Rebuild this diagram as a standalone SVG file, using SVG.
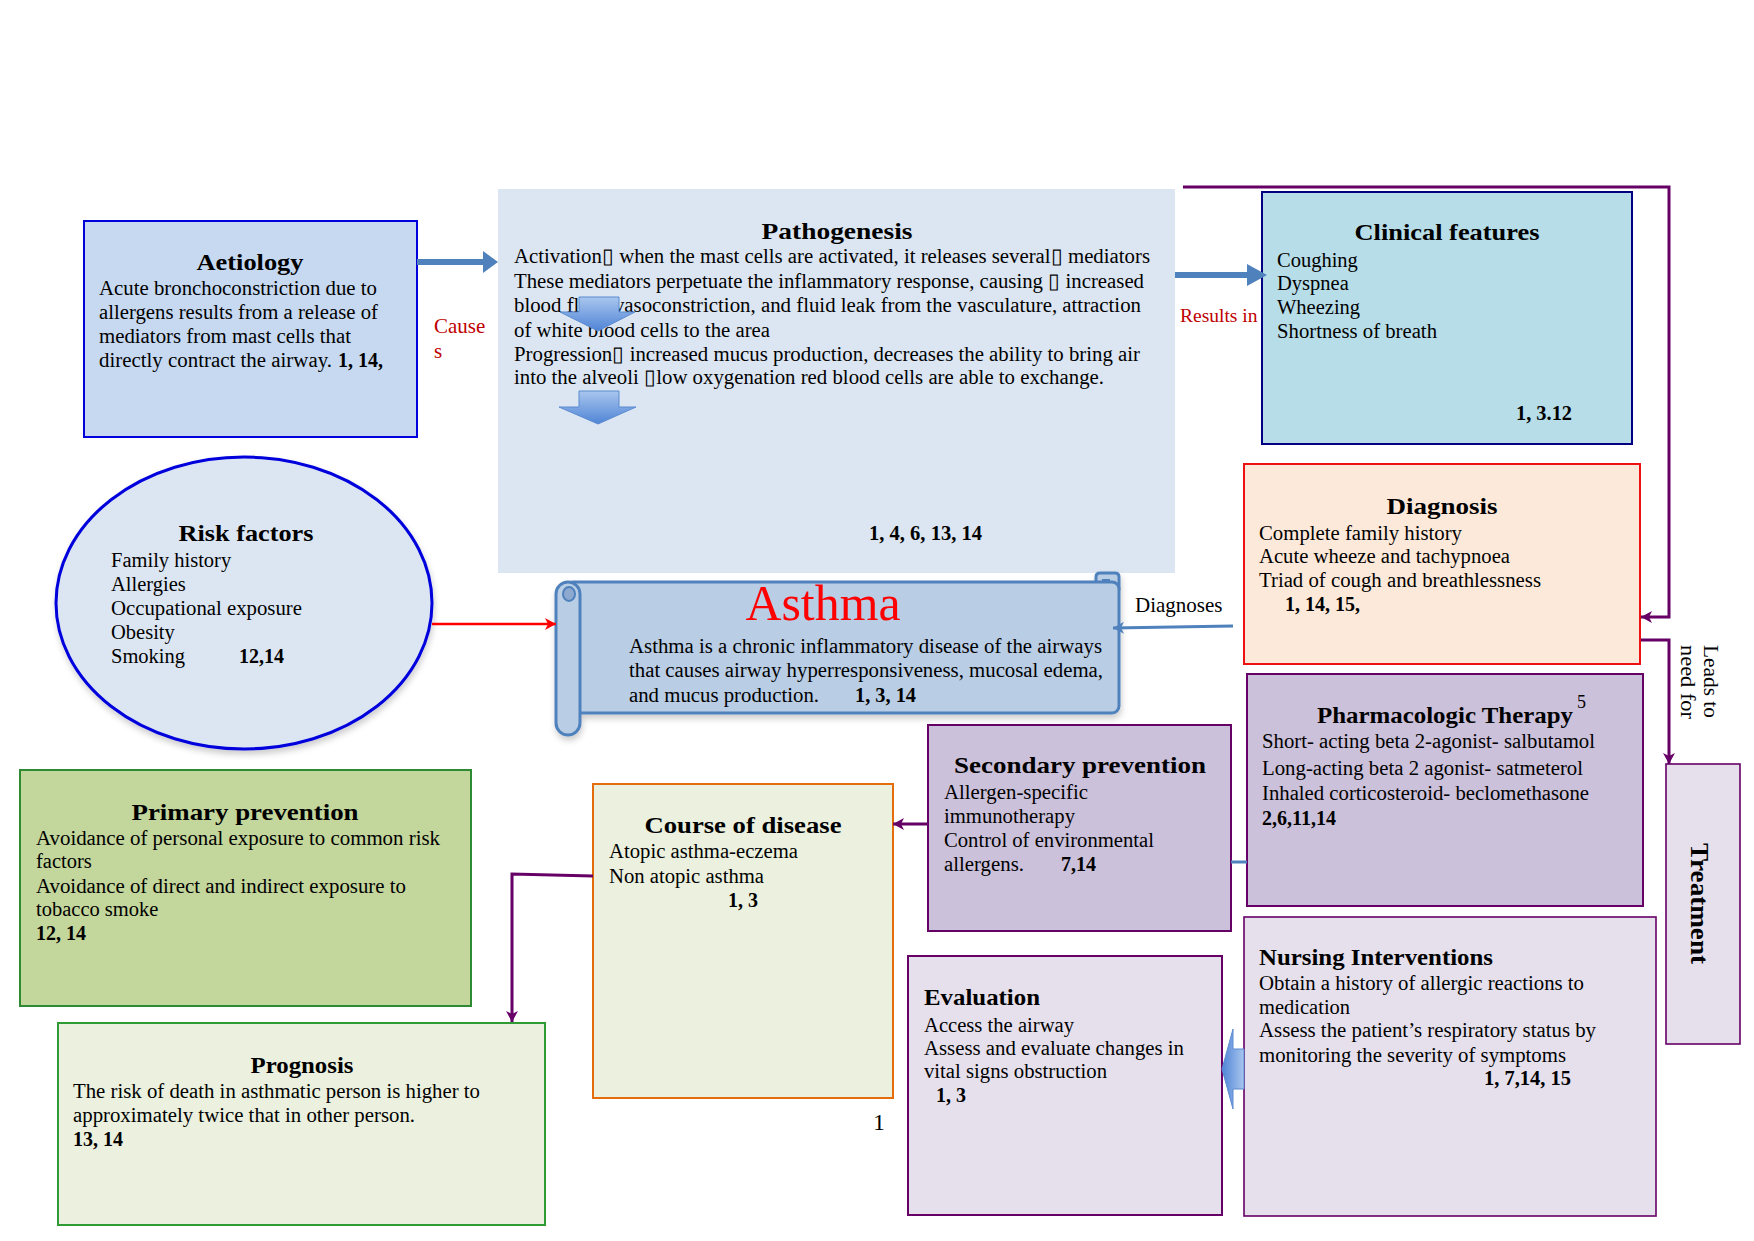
<svg xmlns="http://www.w3.org/2000/svg" width="1754" height="1241" viewBox="0 0 1754 1241">
<defs>
<style>
text{font-family:"Liberation Serif","Times New Roman",serif;fill:#000}
.h{font-weight:bold;font-size:24px}
.b{font-size:20.5px}
.r{font-weight:bold;font-size:20px}
.lbl{font-size:20px}
.red{fill:#c00000}
.box{stroke-width:2}
.pline{fill:none;stroke:#660066;stroke-width:3}
</style>
<linearGradient id="gdown" x1="0" y1="0" x2="0" y2="1">
<stop offset="0" stop-color="#a9c6ee"/>
<stop offset="1" stop-color="#4f84d6"/>
</linearGradient>
<linearGradient id="gleft" x1="0" y1="0" x2="1" y2="0">
<stop offset="0" stop-color="#4f84d6"/>
<stop offset="1" stop-color="#a9c6ee"/>
</linearGradient>
<marker id="ap" markerUnits="userSpaceOnUse" markerWidth="12" markerHeight="12" refX="11" refY="6" orient="auto">
<path d="M0,0 L11,6 L0,12 L3,6 z" fill="#660066"/>
</marker>
<marker id="ar" markerUnits="userSpaceOnUse" markerWidth="12" markerHeight="12" refX="11" refY="6" orient="auto">
<path d="M0,0 L11,6 L0,12 L3,6 z" fill="#ff0000"/>
</marker>
<marker id="ab" markerUnits="userSpaceOnUse" markerWidth="12" markerHeight="12" refX="11" refY="6" orient="auto">
<path d="M0,0 L11,6 L0,12 L3,6 z" fill="#4f81bd"/>
</marker>
<filter id="sh" x="-10%" y="-10%" width="120%" height="125%">
<feDropShadow dx="1" dy="4" stdDeviation="3" flood-color="#000" flood-opacity="0.2"/>
</filter>
</defs>
<rect width="1754" height="1241" fill="#fff"/>

<g id="pathogenesis">
<rect x="498" y="189" width="677" height="384" fill="#dce6f2"/>
<text class="h" x="837" y="239" text-anchor="middle" textLength="151" lengthAdjust="spacingAndGlyphs">Pathogenesis</text>
<text class="b" x="514" y="263" textLength="636" lengthAdjust="spacingAndGlyphs">Activation▯ when the mast cells are activated, it releases several▯ mediators</text>
<text class="b" x="514" y="288" textLength="630" lengthAdjust="spacingAndGlyphs">These mediators perpetuate the inflammatory response, causing ▯ increased</text>
<text class="b" x="514" y="312" textLength="627" lengthAdjust="spacingAndGlyphs">blood flow, vasoconstriction, and fluid leak from the vasculature, attraction</text>
<text class="b" x="514" y="337" textLength="256" lengthAdjust="spacingAndGlyphs">of white blood cells to the area</text>
<text class="b" x="514" y="361" textLength="626" lengthAdjust="spacingAndGlyphs">Progression▯ increased mucus production, decreases the ability to bring air</text>
<text class="b" x="514" y="384" textLength="590" lengthAdjust="spacingAndGlyphs">into the alveoli ▯low oxygenation red blood cells are able to exchange.</text>
<text class="r" x="869" y="540" textLength="113" lengthAdjust="spacingAndGlyphs">1, 4, 6, 13, 14</text>
<path d="M579,297 H619 V312 H635 L598,331 L560,312 H579 z" fill="url(#gdown)" stroke="#5b8bd0" stroke-width="1"/>
<path d="M579,391 H619 V407 H636 L598,424 L559,407 H579 z" fill="url(#gdown)" stroke="#5b8bd0" stroke-width="1"/>
</g>

<g id="aetiology">
<rect class="box" x="84" y="221" width="333" height="216" fill="#c6d9f1" stroke="#0000dd"/>
<text class="h" x="250" y="270" text-anchor="middle" textLength="107" lengthAdjust="spacingAndGlyphs">Aetiology</text>
<text class="b" x="99" y="295" textLength="278" lengthAdjust="spacingAndGlyphs">Acute bronchoconstriction due to</text>
<text class="b" x="99" y="319" textLength="279" lengthAdjust="spacingAndGlyphs">allergens results from a release of</text>
<text class="b" x="99" y="343" textLength="252" lengthAdjust="spacingAndGlyphs">mediators from mast cells that</text>
<text class="b" x="99" y="367" textLength="233" lengthAdjust="spacingAndGlyphs">directly contract the airway.</text>
<text class="r" x="338" y="367">1, 14,</text>
</g>

<g id="clinical-features">
<rect class="box" x="1262" y="192" width="370" height="252" fill="#b7dde8" stroke="#000080"/>
<text class="h" x="1447" y="240" text-anchor="middle" textLength="185" lengthAdjust="spacingAndGlyphs">Clinical features</text>
<text class="b" x="1277" y="267">Coughing</text>
<text class="b" x="1277" y="290">Dyspnea</text>
<text class="b" x="1277" y="314">Wheezing</text>
<text class="b" x="1277" y="338" textLength="160" lengthAdjust="spacingAndGlyphs">Shortness of breath</text>
<text class="r" x="1516" y="420" textLength="56" lengthAdjust="spacingAndGlyphs">1, 3.12</text>
</g>

<g id="risk-factors">
<ellipse cx="244" cy="603" rx="188" ry="146" fill="#dce6f2" stroke="#0000dd" stroke-width="3" filter="url(#sh)"/>
<text class="h" x="246" y="541" text-anchor="middle" textLength="135" lengthAdjust="spacingAndGlyphs">Risk factors</text>
<text class="b" x="111" y="567">Family history</text>
<text class="b" x="111" y="591">Allergies</text>
<text class="b" x="111" y="615" textLength="191" lengthAdjust="spacingAndGlyphs">Occupational exposure</text>
<text class="b" x="111" y="639">Obesity</text>
<text class="b" x="111" y="663">Smoking</text>
<text class="r" x="239" y="663">12,14</text>
</g>

<g id="asthma">
<g filter="url(#sh)">
<path d="M1096,584 V577 Q1096,573 1100,573 H1115 Q1119,573 1119,577 V590" fill="#b9cde5" stroke="#4f81bd" stroke-width="3"/>
<rect x="566" y="582" width="553" height="131" rx="7" fill="#b9cde5" stroke="#4f81bd" stroke-width="3"/>
<rect x="556" y="582" width="24" height="153" rx="12" fill="#b9cde5" stroke="#4f81bd" stroke-width="3"/>
</g>
<ellipse cx="569" cy="594" rx="6" ry="7" fill="#8ea9cf" stroke="#4f81bd" stroke-width="2"/>
<path d="M1102,580 H1110" stroke="#4f81bd" stroke-width="2"/>
<text x="823" y="620" text-anchor="middle" style="font-size:50px;fill:#ff0000" textLength="155" lengthAdjust="spacingAndGlyphs">Asthma</text>
<text class="b" x="629" y="653" textLength="473" lengthAdjust="spacingAndGlyphs">Asthma is a chronic inflammatory disease of the airways</text>
<text class="b" x="629" y="677" textLength="474" lengthAdjust="spacingAndGlyphs">that causes airway hyperresponsiveness, mucosal edema,</text>
<text class="b" x="629" y="702" textLength="190" lengthAdjust="spacingAndGlyphs">and mucus production.</text>
<text class="r" x="855" y="702" textLength="61" lengthAdjust="spacingAndGlyphs">1, 3, 14</text>
</g>

<g id="diagnosis">
<rect class="box" x="1244" y="464" width="396" height="200" fill="#fde9d9" stroke="#ee1111"/>
<text class="h" x="1442" y="514" text-anchor="middle" textLength="111" lengthAdjust="spacingAndGlyphs">Diagnosis</text>
<text class="b" x="1259" y="540" textLength="203" lengthAdjust="spacingAndGlyphs">Complete family history</text>
<text class="b" x="1259" y="563" textLength="251" lengthAdjust="spacingAndGlyphs">Acute wheeze and tachypnoea</text>
<text class="b" x="1259" y="587" textLength="282" lengthAdjust="spacingAndGlyphs">Triad of cough and breathlessness</text>
<text class="r" x="1285" y="611">1, 14, 15,</text>
</g>

<g id="pharmacologic-therapy">
<rect class="box" x="1247" y="674" width="396" height="232" fill="#ccc1da" stroke="#660066"/>
<text class="h" x="1317" y="723" textLength="256" lengthAdjust="spacingAndGlyphs">Pharmacologic Therapy</text>
<text x="1577" y="708" style="font-size:18px">5</text>
<text class="b" x="1262" y="748" textLength="333" lengthAdjust="spacingAndGlyphs">Short- acting beta 2-agonist- salbutamol</text>
<text class="b" x="1262" y="775" textLength="321" lengthAdjust="spacingAndGlyphs">Long-acting beta 2 agonist- satmeterol</text>
<text class="b" x="1262" y="800" textLength="327" lengthAdjust="spacingAndGlyphs">Inhaled corticosteroid- beclomethasone</text>
<text class="r" x="1262" y="825">2,6,11,14</text>
</g>

<g id="secondary-prevention">
<rect class="box" x="928" y="725" width="303" height="206" fill="#ccc1da" stroke="#660066"/>
<text class="h" x="1080" y="773" text-anchor="middle" textLength="252" lengthAdjust="spacingAndGlyphs">Secondary prevention</text>
<text class="b" x="944" y="799" textLength="144" lengthAdjust="spacingAndGlyphs">Allergen-specific</text>
<text class="b" x="944" y="823" textLength="131" lengthAdjust="spacingAndGlyphs">immunotherapy</text>
<text class="b" x="944" y="847" textLength="210" lengthAdjust="spacingAndGlyphs">Control of environmental</text>
<text class="b" x="944" y="871" textLength="80" lengthAdjust="spacingAndGlyphs">allergens.</text>
<text class="r" x="1061" y="871">7,14</text>
</g>

<g id="course-of-disease">
<rect class="box" x="593" y="784" width="300" height="314" fill="#ebf1de" stroke="#e46c0a"/>
<text class="h" x="743" y="833" text-anchor="middle" textLength="197" lengthAdjust="spacingAndGlyphs">Course of disease</text>
<text class="b" x="609" y="858" textLength="189" lengthAdjust="spacingAndGlyphs">Atopic asthma-eczema</text>
<text class="b" x="609" y="883" textLength="155" lengthAdjust="spacingAndGlyphs">Non atopic asthma</text>
<text class="r" x="728" y="907">1, 3</text>
</g>

<g id="page-number">
<text x="873" y="1130" style="font-size:24px">1</text>
</g>

<g id="evaluation">
<rect class="box" x="908" y="956" width="314" height="259" fill="#e5e0ec" stroke="#660066"/>
<text class="h" x="924" y="1005" textLength="116" lengthAdjust="spacingAndGlyphs">Evaluation</text>
<text class="b" x="924" y="1032" textLength="150" lengthAdjust="spacingAndGlyphs">Access the airway</text>
<text class="b" x="924" y="1055" textLength="260" lengthAdjust="spacingAndGlyphs">Assess and evaluate changes in</text>
<text class="b" x="924" y="1078" textLength="183" lengthAdjust="spacingAndGlyphs">vital signs obstruction</text>
<text class="r" x="936" y="1102">1, 3</text>
</g>

<g id="nursing-interventions">
<rect x="1244" y="917" width="412" height="299" fill="#e5e0ec" stroke="#660066" stroke-width="1.6"/>
<text class="h" x="1259" y="965" textLength="234" lengthAdjust="spacingAndGlyphs">Nursing Interventions</text>
<text class="b" x="1259" y="990" textLength="325" lengthAdjust="spacingAndGlyphs">Obtain a history of allergic reactions to</text>
<text class="b" x="1259" y="1014">medication</text>
<text class="b" x="1259" y="1037" textLength="337" lengthAdjust="spacingAndGlyphs">Assess the patient’s respiratory status by</text>
<text class="b" x="1259" y="1062" textLength="307" lengthAdjust="spacingAndGlyphs">monitoring the severity of symptoms</text>
<text class="r" x="1484" y="1085" textLength="87" lengthAdjust="spacingAndGlyphs">1, 7,14, 15</text>
</g>

<g id="treatment">
<rect x="1666" y="764" width="74" height="280" fill="#e5e0ec" stroke="#660066" stroke-width="1.6"/>
<text transform="translate(1691,843) rotate(90)" style="font-size:26px;font-weight:bold" textLength="121" lengthAdjust="spacingAndGlyphs">Treatment</text>
</g>

<g id="primary-prevention">
<rect class="box" x="20" y="770" width="451" height="236" fill="#c3d69b" stroke="#2e8b34"/>
<text class="h" x="245" y="820" text-anchor="middle" textLength="227" lengthAdjust="spacingAndGlyphs">Primary prevention</text>
<text class="b" x="36" y="845" textLength="404" lengthAdjust="spacingAndGlyphs">Avoidance of personal exposure to common risk</text>
<text class="b" x="36" y="868">factors</text>
<text class="b" x="36" y="893" textLength="370" lengthAdjust="spacingAndGlyphs">Avoidance of direct and indirect exposure to</text>
<text class="b" x="36" y="916">tobacco smoke</text>
<text class="r" x="36" y="940">12, 14</text>
</g>

<g id="prognosis">
<rect class="box" x="58" y="1023" width="487" height="202" fill="#ebf1de" stroke="#2e9b34"/>
<text class="h" x="302" y="1073" text-anchor="middle" textLength="103" lengthAdjust="spacingAndGlyphs">Prognosis</text>
<text class="b" x="73" y="1098" textLength="407" lengthAdjust="spacingAndGlyphs">The risk of death in asthmatic person is higher to</text>
<text class="b" x="73" y="1122" textLength="342" lengthAdjust="spacingAndGlyphs">approximately twice that in other person.</text>
<text class="r" x="73" y="1146">13, 14</text>
</g>

<g id="connectors">
<path d="M417,262 H484" stroke="#4f81bd" stroke-width="6" fill="none"/>
<path d="M483,251 L498,262 L483,273 z" fill="#4f81bd"/>
<path d="M1175,275 H1249" stroke="#4f81bd" stroke-width="6" fill="none"/>
<path d="M1247,264 L1267,275 L1247,286 z" fill="#4f81bd"/>
<path class="pline" d="M1183,187 H1669 V617 H1641" marker-end="url(#ap)"/>
<path class="pline" d="M1641,640 H1669 V764" marker-end="url(#ap)"/>
<path class="pline" d="M928,824 H893" marker-end="url(#ap)"/>
<path class="pline" d="M593,876 L512,874 V1022" marker-end="url(#ap)"/>
<path d="M432,624 H556" fill="none" stroke="#ff0000" stroke-width="2.5" marker-end="url(#ar)"/>
<path d="M1233,626 L1113,628" fill="none" stroke="#4f81bd" stroke-width="3" marker-end="url(#ab)"/>
<path d="M1231,862 H1247" fill="none" stroke="#4f81bd" stroke-width="3"/>
<path d="M1244,1049 V1089 H1233 V1109 L1222,1069 L1233,1029 V1049 z" fill="url(#gleft)" stroke="#5b8bd0" stroke-width="1"/>
<text class="lbl red" x="434" y="333" style="font-size:21px">Cause</text>
<text class="lbl red" x="434" y="358" style="font-size:21px">s</text>
<text class="lbl red" x="1180" y="322" style="font-size:19.5px">Results in</text>
<text class="lbl" x="1135" y="612" style="font-size:21px">Diagnoses</text>
<g transform="translate(1704,645) rotate(90)">
<text class="lbl" x="0" y="0" textLength="73" lengthAdjust="spacingAndGlyphs">Leads to</text>
<text class="lbl" x="0" y="23" textLength="74" lengthAdjust="spacingAndGlyphs">need for</text>
</g>
</g>
</svg>
